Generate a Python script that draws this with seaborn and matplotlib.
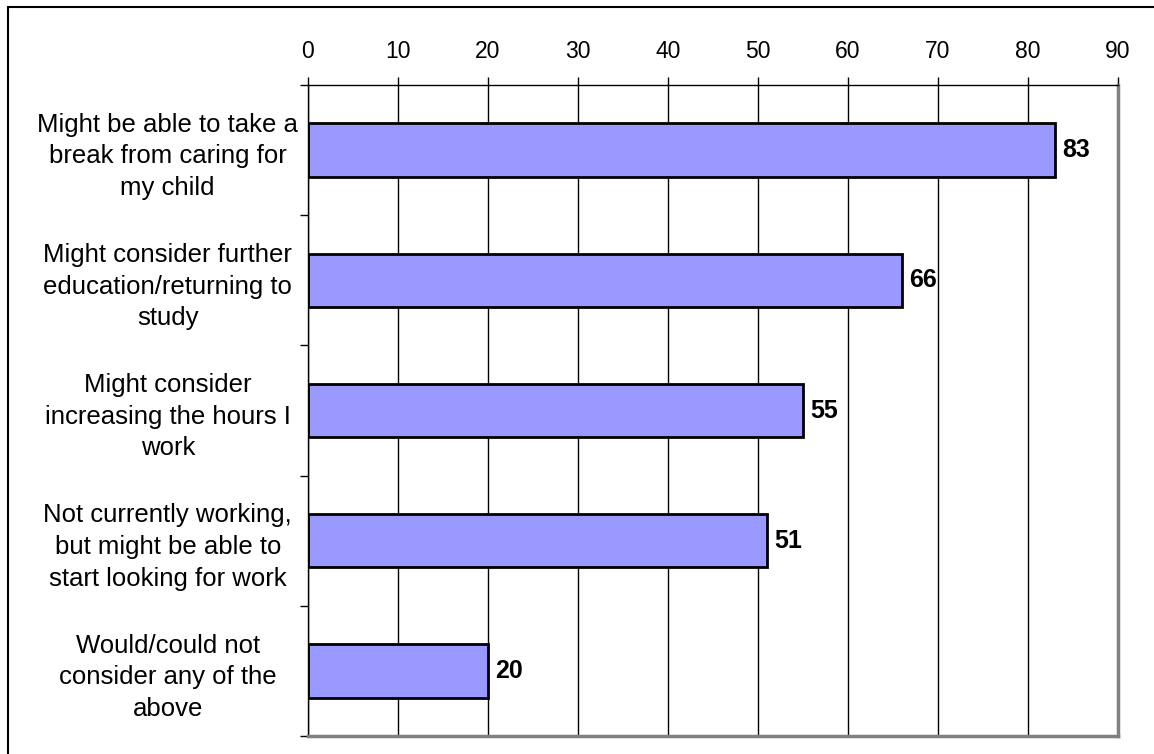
import matplotlib
matplotlib.use("Agg")
import matplotlib.pyplot as plt
import seaborn as sns
import pandas as pd
from matplotlib.lines import Line2D

categories = [
    "Might be able to take a\nbreak from caring for\nmy child",
    "Might consider further\neducation/returning to\nstudy",
    "Might consider\nincreasing the hours I\nwork",
    "Not currently working,\nbut might be able to\nstart looking for work",
    "Would/could not\nconsider any of the\nabove",
]
values = [83, 66, 55, 51, 20]
xticks = [0, 10, 20, 30, 40, 50, 60, 70, 80, 90]

sns.set_style("white")
plt.rcParams['font.family'] = ['Liberation Sans', 'DejaVu Sans']
plt.rcParams['text.color'] = 'black'
plt.rcParams['xtick.labelcolor'] = 'black'
plt.rcParams['ytick.labelcolor'] = 'black'

df = pd.DataFrame({"category": categories, "value": values})

fig = plt.figure(figsize=(11.54, 7.54), dpi=100)
ax = fig.add_axes([308 / 1154, 1 - 736 / 754, (1118 - 308) / 1154, (736 - 85) / 754])

sns.barplot(data=df, y="category", x="value", orient="h", color="#9999FF",
            saturation=1, width=0.41, edgecolor="black", linewidth=2, ax=ax)

ax.set_xlim(0, 90)
ax.set_ylim(len(categories) - 0.5, -0.5)
ax.set_xticks(xticks)
ax.xaxis.tick_top()
ax.tick_params(axis="x", labelsize=16.5, length=6, width=1, color="black", pad=10, top=True, bottom=False)
ax.set_xlabel("")
ax.set_ylabel("")

# category labels between boundary ticks
ax.set_yticks([i - 0.5 for i in range(len(categories) + 1)], minor=False)
ax.set_yticklabels([])
ax.set_yticks(range(len(categories)), minor=True)
ax.set_yticklabels(categories, minor=True, fontsize=18.5, ha="center", linespacing=1.4)
ax.tick_params(axis="y", which="major", length=6, width=1, color="black", left=True)
ax.tick_params(axis="y", which="minor", length=0, pad=101)

ax.grid(axis="x", color="black", linewidth=1)
ax.set_axisbelow(True)

for side in ["top", "left"]:
    ax.spines[side].set_color("black")
    ax.spines[side].set_linewidth(1)
for side in ["right", "bottom"]:
    ax.spines[side].set_color("#808080")
    ax.spines[side].set_linewidth(2.5)

for i, v in enumerate(values):
    ax.text(v + 0.8, i, str(v), va="center", ha="left", fontsize=18, fontweight="bold")

# outer border (top and left visible)
fig.add_artist(Line2D([8 / 1154, 8 / 1154], [0, 1 - 7 / 754], color="black", linewidth=1.5))
fig.add_artist(Line2D([8 / 1154, 1], [1 - 7 / 754, 1 - 7 / 754], color="black", linewidth=1.5))

fig.savefig("out.png", dpi=100)
